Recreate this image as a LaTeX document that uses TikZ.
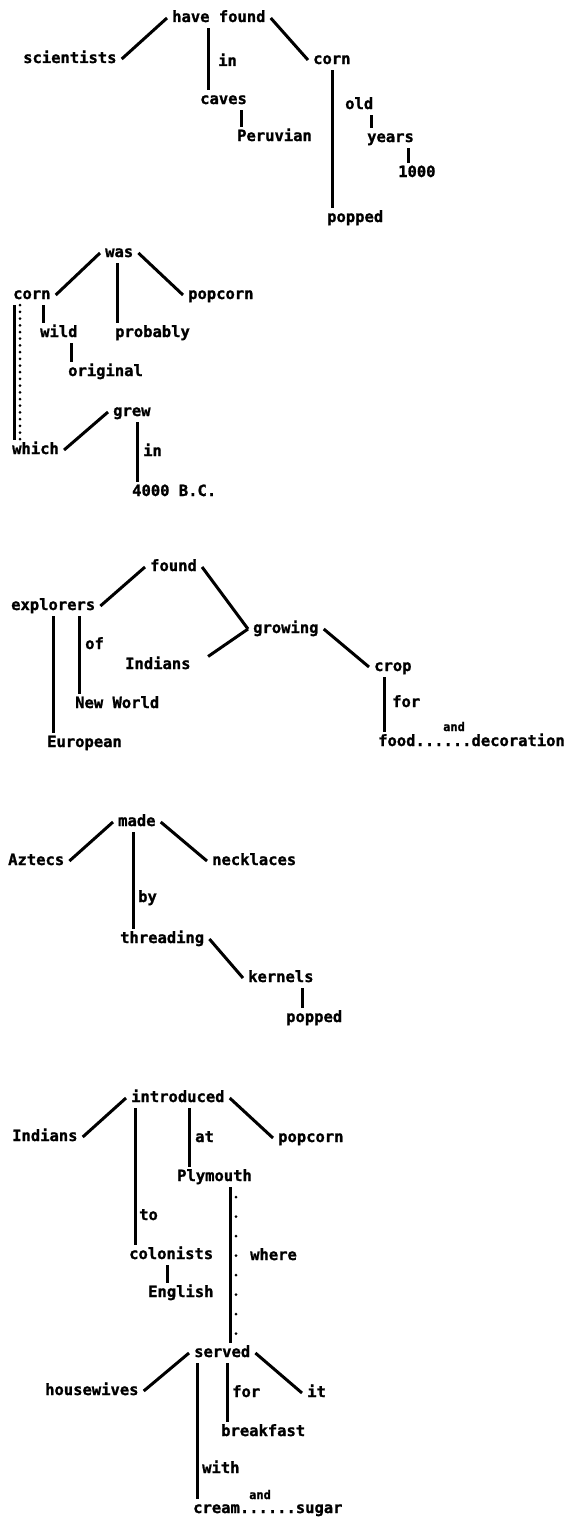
\documentclass[tikz,border=0pt]{standalone}
\usepackage{fontspec}
\newfontfamily\printfont{DejaVu Sans Mono}[FakeBold=1.2]
\begin{document}
\begin{tikzpicture}[x=1pt,y=-1pt,
  word/.style={font=\printfont\bfseries\fontsize{15.5}{18}\selectfont,inner xsep=5pt,inner ysep=5pt,text height=9pt,text depth=1pt,anchor=west,xshift=-5pt},
  conj/.style={word,font=\printfont\bfseries\fontsize{12}{14}\selectfont},
  tie/.style={line width=3pt},
  densedots/.style={line width=3pt,line cap=round,dash pattern=on 0pt off 6.7pt},
  sparsedots/.style={line width=3pt,line cap=round,dash pattern=on 0pt off 19.5pt}]
\useasboundingbox (0,0) rectangle (571,1520);

\node [word] (have) at (172,18) {have found};
\node [word] (sci) at (23,59) {scientists};
\node [word] (in1) at (218,62) {in};
\node [word] (caves) at (200,100) {caves};
\node [word] (peru) at (237,137) {Peruvian};
\node [word] (corn1) at (313,60) {corn};
\node [word] (old) at (345,105) {old};
\node [word] (years) at (367,138) {years};
\node [word] (thou) at (398,173) {1000};
\node [word] (popped1) at (327,218) {popped};
\draw [tie] (sci.east) -- (have.west);
\draw [tie] (have.east) -- (corn1.west);
\draw [tie] (have.south -| 208,0) -- (caves.north -| 208,0);
\draw [tie] (caves.south -| 241,0) -- (peru.north -| 241,0);
\draw [tie] (corn1.south -| 332,0) -- (popped1.north -| 332,0);
\draw [tie] (old.south -| 371,0) -- (years.north -| 371,0);
\draw [tie] (years.south -| 408,0) -- (thou.north -| 408,0);

\node [word] (was) at (105,253) {was};
\node [word] (corn2) at (13,295) {corn};
\node [word] (popcorn1) at (188,295) {popcorn};
\node [word] (wild) at (40,333) {wild};
\node [word] (probably) at (115,333) {probably};
\node [word] (original) at (68,372) {original};
\node [word] (grew) at (113,412) {grew};
\node [word] (which) at (12,450) {which};
\node [word] (in2) at (143,452) {in};
\node [word] (bc) at (132,492) {4000 B.C.};
\draw [tie] (corn2.east) -- (was.west);
\draw [tie] (was.east) -- (popcorn1.west);
\draw [tie] (was.south -| 117,0) -- (probably.north -| 117,0);
\draw [tie] (corn2.south -| 43,0) -- (wild.north -| 43,0);
\draw [tie] (wild.south -| 71,0) -- (original.north -| 71,0);
\draw [tie] (which.east) -- (grew.west);
\draw [tie] (grew.south -| 137,0) -- (bc.north -| 137,0);
\draw [tie] (corn2.south -| 14,0) -- (which.north -| 14,0);
\draw [densedots] (corn2.south -| 20,0) -- (which.north -| 20,0);

\node [word] (found) at (150,567) {found};
\node [word] (explorers) at (11,606) {explorers};
\node [word] (growing) at (253,629) {growing};
\node [word] (indians1) at (125,665) {Indians};
\node [word] (crop) at (374,667) {crop};
\node [word] (of) at (85,645) {of};
\node [word] (newworld) at (75,704) {New World};
\node [word] (european) at (47,743) {European};
\node [word] (for1) at (392,703) {for};
\node [word] (fooddec) at (378,742) {food......decoration};
\node [conj] (and1) at (443,727) {and};
\draw [tie] (explorers.east) -- (found.west);
\draw [tie] (found.east) -- (growing.west);
\draw [tie,shorten <=15pt] (indians1.east) -- (growing.west);
\draw [tie] (growing.east) -- (crop.west);
\draw [tie] (explorers.south -| 53,0) -- (european.north -| 53,0);
\draw [tie] (explorers.south -| 79,0) -- (newworld.north -| 79,0);
\draw [tie] (crop.south -| 384,0) -- (fooddec.north -| 384,0);

\node [word] (made) at (118,822) {made};
\node [word] (aztecs) at (8,861) {Aztecs};
\node [word] (necklaces) at (212,861) {necklaces};
\node [word] (by) at (138,898) {by};
\node [word] (threading) at (120,939) {threading};
\node [word] (kernels) at (248,978) {kernels};
\node [word] (popped2) at (286,1018) {popped};
\draw [tie] (aztecs.east) -- (made.west);
\draw [tie] (made.east) -- (necklaces.west);
\draw [tie] (made.south -| 133,0) -- (threading.north -| 133,0);
\draw [tie] (threading.east) -- (kernels.west);
\draw [tie] (kernels.south -| 302,0) -- (popped2.north -| 302,0);

\node [word] (introduced) at (131,1098) {introduced};
\node [word] (indians2) at (12,1137) {Indians};
\node [word] (popcorn2) at (278,1138) {popcorn};
\node [word] (at) at (195,1138) {at};
\node [word] (plymouth) at (177,1177) {Plymouth};
\node [word] (to) at (139,1216) {to};
\node [word] (colonists) at (129,1255) {colonists};
\node [word] (english) at (148,1293) {English};
\node [word] (where) at (250,1256) {where};
\node [word] (served) at (194,1353) {served};
\node [word] (housewives) at (45,1391) {housewives};
\node [word] (for2) at (232,1393) {for};
\node [word] (it) at (307,1393) {it};
\node [word] (breakfast) at (221,1432) {breakfast};
\node [word] (with) at (202,1469) {with};
\node [word] (creamsugar) at (193,1509) {cream......sugar};
\node [conj] (and2) at (249,1495) {and};
\draw [tie] (indians2.east) -- (introduced.west);
\draw [tie] (introduced.east) -- (popcorn2.west);
\draw [tie] (introduced.south -| 135,0) -- (colonists.north -| 135,0);
\draw [tie] (introduced.south -| 189,0) -- (plymouth.north -| 189,0);
\draw [tie] (colonists.south -| 167,0) -- (english.north -| 167,0);
\draw [tie] (plymouth.south -| 230,0) -- (served.north -| 230,0);
\draw [sparsedots] ([yshift=-10pt]plymouth.south -| 236,0) -- (served.north -| 236,0);
\draw [tie] (housewives.east) -- (served.west);
\draw [tie] (served.east) -- (it.west);
\draw [tie] (served.south -| 227,0) -- (breakfast.north -| 227,0);
\draw [tie] (served.south -| 197,0) -- (creamsugar.north -| 197,0);
\end{tikzpicture}
\end{document}
